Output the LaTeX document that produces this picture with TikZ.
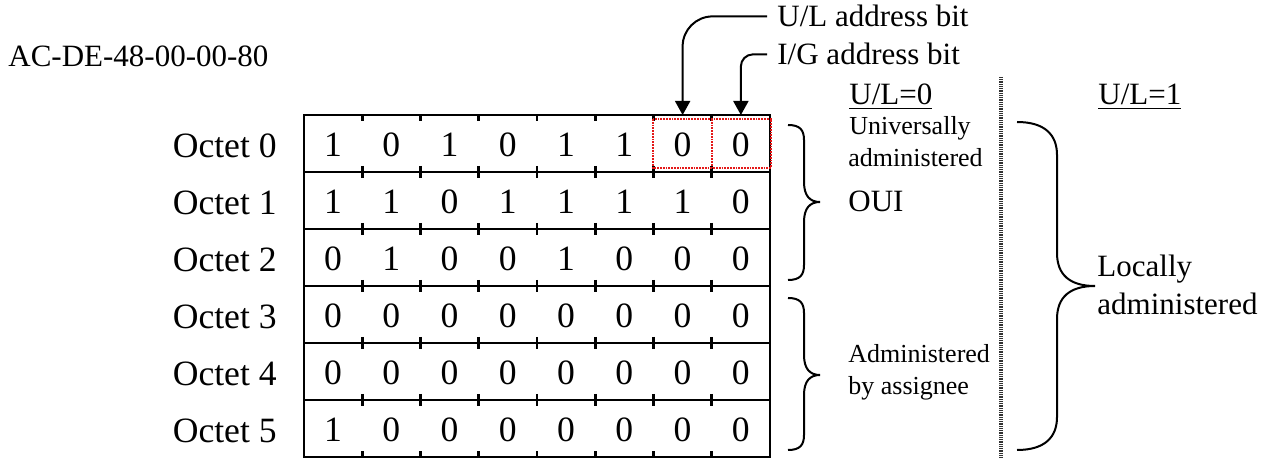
\documentclass[tikz,border=0pt]{standalone}
\usepackage{fontspec}
\setmainfont{Liberation Serif}
\usepackage{tikz}
\usetikzlibrary{arrows.meta,positioning,calc}
\definecolor{pickred}{RGB}{228,24,24}
\definecolor{sepgray}{RGB}{50,50,50}

\begin{document}
\begin{tikzpicture}[
  x=0.5pt,y=-0.5pt,
  bigfont/.style={font=\fontsize{17.8}{20}\selectfont},
  midfont/.style={font=\fontsize{15.5}{18}\selectfont},
  smallfont/.style={font=\fontsize{13}{16}\selectfont},
  bit/.style={bigfont,anchor=base,inner sep=0pt},
  octet/.style={bigfont,anchor=base east,inner sep=0pt},
  note/.style={smallfont,anchor=base west,inner sep=0pt},
  bignote/.style={midfont,anchor=base west,inner sep=0pt},
  bitlabel/.style={midfont,anchor=base west,inner xsep=5pt,inner ysep=0pt},
  gridline/.style={line width=1.3pt},
  pickbox/.style={draw=pickred,line width=1.25pt,dash pattern=on 0.9pt off 0.5pt},
  sepline/.style={draw=sepgray,line width=1.8pt,dash pattern=on 0.5pt off 0.4pt},
  arrow/.style={-{Triangle[length=7pt,width=7.5pt]},draw=black,line width=1pt},
  brace/.style={draw=black,line width=1pt}
]
\useasboundingbox (0,0) rectangle (1267,458);

% address
\node[bignote] (macaddr) at (8,67) {AC-DE-48-00-00-80};

% octets and bits
\foreach \bits [count=\r from 0] in {{1,0,1,0,1,1,0,0},{1,1,0,1,1,1,1,0},{0,1,0,0,1,0,0,0},
                                     {0,0,0,0,0,0,0,0},{0,0,0,0,0,0,0,0},{1,0,0,0,0,0,0,0}}{
  \node[octet] (oct-\r) at (277,157.5+57*\r) {Octet \r};
  \foreach \b [count=\c] in \bits
    \node[bit] (c-\r-\c) at ({304+58.25*(\c-0.5)},157+57*\r) {\b};
}

% table frame
\draw[gridline] (304,115) rectangle (770,457);
\foreach \r in {1,...,5}
  \draw[gridline] (304,115+57*\r) -- (770,115+57*\r);
\foreach \k in {1,...,7}{
  \draw[gridline] (304+58.25*\k,115) -- ++(0,6);
  \foreach \r in {1,...,5}
    \draw[gridline] (304+58.25*\k,109+57*\r) -- ++(0,12);
  \draw[gridline] (304+58.25*\k,457) -- ++(0,-6);
}
\coordinate (tabtop) at (304,115);

% U/L and I/G bits
\draw[pickbox] (653,119) rectangle (771,168) (712,119) -- (712,168);
\node[bitlabel] (ulbit) at (767,27) {U/L address bit};
\node[bitlabel] (igbit) at (767,65) {I/G address bit};
\draw[arrow,rounded corners=15pt] (ulbit.west) -| (c-0-7 |- tabtop);
\draw[arrow,rounded corners=6pt] (igbit.west) -| (c-0-8 |- tabtop);

% U/L=0 side
\node[bignote] (ul0) at (849,105) {\underline{U/L=0}};
\node[note] (univ) at (849,135) {Universally};
\node[note] (univadm) at (848,167) {administered};
\node[bignote] (oui) at (848,212) {OUI};
\node[note] (assadm) at (848,363) {Administered};
\node[note] (assby) at (848,395) {by assignee};
\draw[brace] (788,125) .. controls (800,125) and (804,130) .. (804,140) -- (804,182)
  .. controls (804,196) and (810,202) .. (820,202) .. controls (810,202) and (804,208) .. (804,222)
  -- (804,265) .. controls (804,275) and (800,280) .. (788,280);
\draw[brace] (788,298) .. controls (800,298) and (804,303) .. (804,313) -- (804,355)
  .. controls (804,369) and (810,375) .. (820,375) .. controls (810,375) and (804,381) .. (804,395)
  -- (804,435) .. controls (804,445) and (800,450) .. (788,450);

% separator
\draw[sepline] (1001,77) -- (1001,458);

% U/L=1 side
\node[bignote] (ul1) at (1098,105) {\underline{U/L=1}};
\node[bignote] (local) at (1097,277) {Locally};
\node[bignote] (localadm) at (1097,315) {administered};
\draw[brace] (1017,122) .. controls (1045,122) and (1057,135) .. (1057,155) -- (1057,253)
  .. controls (1057,275) and (1070,286) .. (1095,286) .. controls (1070,286) and (1057,297) .. (1057,319)
  -- (1057,417) .. controls (1057,437) and (1045,450) .. (1017,450);
\end{tikzpicture}
\end{document}
